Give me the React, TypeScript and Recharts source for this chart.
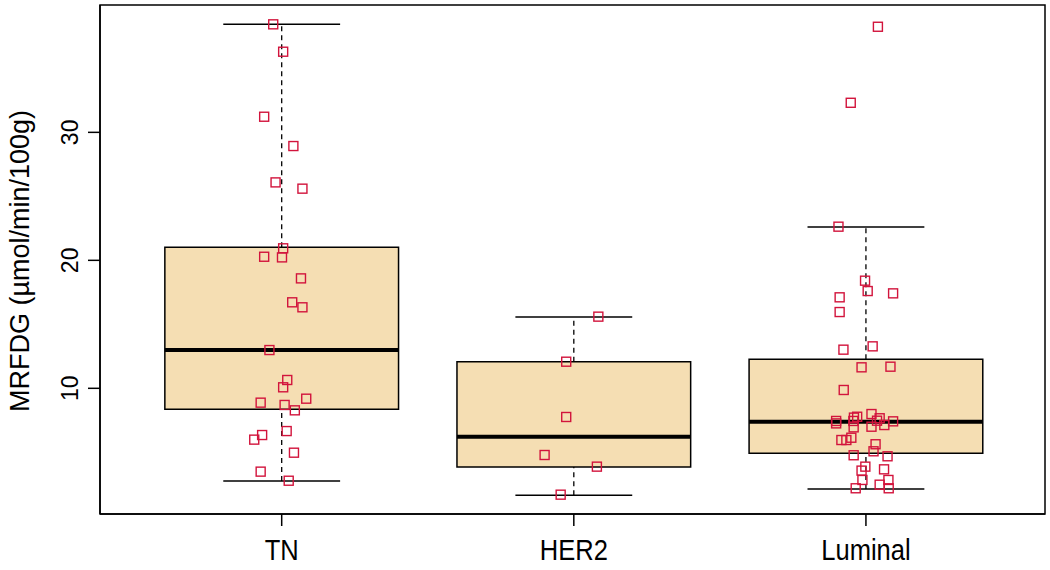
import React from 'react';
import {
  ComposedChart,
  XAxis,
  YAxis,
  Scatter,
  ReferenceArea,
  ReferenceLine,
} from 'recharts';

const groups = ['TN', 'HER2', 'Luminal'];
const yTicks = [10, 20, 30];
const xDomain = [0.378, 3.613];
const yDomain = [0.18, 39.95];

// box stats: lower whisker, Q1, median, Q3, upper whisker
const tnStats = [2.76, 8.36, 12.99, 21.02, 38.44];
const her2Stats = [1.64, 3.85, 6.22, 12.08, 15.57];
const luminalStats = [2.13, 4.92, 7.39, 12.27, 22.6];

// individual patients (values) and the horizontal jitter used in the plot
const tnValues = [
  38.44, 36.3, 31.22, 28.93, 26.09, 25.6, 20.94, 20.28, 20.23, 18.59, 16.72, 16.33, 12.99,
  10.65, 10.08, 9.19, 8.88, 8.7, 8.28, 6.66, 6.35, 5.99, 4.97, 3.49, 2.78,
];
const tnJitter = [
  -0.029, 0.005, -0.06, 0.04, -0.021, 0.071, 0.005, -0.06, 0.001, 0.066, 0.036, 0.071, -0.042,
  0.019, 0.005, 0.084, -0.072, 0.01, 0.045, 0.017, -0.067, -0.094, 0.042, -0.072, 0.024,
];
const her2Values = [15.6, 12.08, 7.76, 4.79, 3.88, 1.69];
const her2Jitter = [0.084, -0.026, -0.026, -0.1, 0.079, -0.045];
const luminalValues = [
  38.25, 32.31, 22.63, 18.41, 17.6, 17.42, 17.11, 15.96, 13.02, 13.28, 11.64, 11.69, 9.87,
  7.45, 7.26, 7.71, 7.78, 7.45, 7.99, 7.66, 7.47, 7.42, 7.13, 7.0, 6.95, 6.14, 5.96, 5.96,
  5.63, 5.08, 4.77, 4.69, 3.88, 3.57, 3.67, 2.84, 2.84, 2.47, 2.19, 2.19,
];
const luminalJitter = [
  0.041, -0.052, -0.094, -0.003, 0.006, 0.093, -0.09, -0.09, -0.077, 0.023, -0.015, 0.084, -0.076,
  -0.102, -0.102, -0.041, -0.03, -0.043, 0.019, 0.047, 0.038, 0.093, 0.063, 0.019, -0.042, -0.05,
  -0.067, -0.084, 0.033, 0.026, -0.042, 0.074, -0.002, -0.015, 0.062, -0.012, 0.077, 0.047,
  -0.035, 0.078,
];

const allStats = [tnStats, her2Stats, luminalStats];
const allValues = [tnValues, her2Values, luminalValues];
const allJitter = [tnJitter, her2Jitter, luminalJitter];

const points = allValues.flatMap((vals, g) =>
  vals.map((v, i) => ({ x: g + 1 + allJitter[g][i], y: v }))
);

const FONT = '"Liberation Sans", Arial, sans-serif';
const PT_COLOR = '#d2143c';
const BOX_FILL = '#f5deb3';

const SquareDot = (props: any) => {
  const { cx, cy } = props;
  if (cx == null || cy == null) return null;
  return (
    <rect x={cx - 4.5} y={cy - 4.5} width={9} height={9} fill="none" stroke={PT_COLOR} strokeWidth={1.4} />
  );
};

const XTick = (props: any) => {
  const { x, y, payload } = props;
  const by = y + 32;
  return (
    <text
      x={0}
      y={0}
      transform={`translate(${x}, ${by}) scale(0.88, 1)`}
      textAnchor="middle"
      fontSize={29}
      fontFamily={FONT}
      fill="#000"
    >
      {groups[payload.value - 1]}
    </text>
  );
};

const YTick = (props: any) => {
  const { x, y, payload } = props;
  const bx = x - 8;
  return (
    <text
      x={bx}
      y={y}
      transform={`rotate(-90, ${bx}, ${y})`}
      textAnchor="middle"
      fontSize={23}
      fontFamily={FONT}
      fill="#000"
    >
      {payload.value}
    </text>
  );
};

const App: React.FC = () => {
  return (
    <div style={{ width: 1050, height: 570 }}>
      <style>{'body{margin:0}'}</style>
      <ComposedChart width={1050} height={570} margin={{ top: 5, right: 5, bottom: 0, left: 0 }}>
        <XAxis
          type="number"
          dataKey="x"
          domain={xDomain}
          ticks={[1, 2, 3]}
          allowDataOverflow
          height={56}
          tickSize={12}
          stroke="#000"
          strokeWidth={1.5}
          tick={<XTick />}
        />
        <YAxis
          type="number"
          dataKey="y"
          domain={yDomain}
          ticks={yTicks}
          allowDataOverflow
          width={100}
          tickSize={12}
          stroke="#000"
          strokeWidth={1.5}
          tick={<YTick />}
          label={{
            content: () => (
              <text
                x={29}
                y={261}
                transform="rotate(-90, 29, 261)"
                textAnchor="middle"
                fontSize={27}
                fontFamily={FONT}
                fill="#000"
              >
                MRFDG (µmol/min/100g)
              </text>
            ),
          }}
        />

        {/* plot frame */}
        <ReferenceArea
          x1={xDomain[0]}
          x2={xDomain[1]}
          y1={yDomain[0]}
          y2={yDomain[1]}
          fill="none"
          stroke="#000"
          strokeWidth={1.5}
        />

        {allStats.map((s, g) => (
          <ReferenceArea
            key={`box-${g}`}
            x1={g + 1 - 0.4}
            x2={g + 1 + 0.4}
            y1={s[1]}
            y2={s[3]}
            fill={BOX_FILL}
            fillOpacity={1}
            stroke="#000"
            strokeWidth={1.5}
          />
        ))}
        {allStats.map((s, g) => (
          <ReferenceLine
            key={`wl-${g}`}
            segment={[{ x: g + 1, y: s[0] }, { x: g + 1, y: s[1] }]}
            stroke="#000"
            strokeWidth={1.3}
            strokeDasharray="5 4"
          />
        ))}
        {allStats.map((s, g) => (
          <ReferenceLine
            key={`wu-${g}`}
            segment={[{ x: g + 1, y: s[3] }, { x: g + 1, y: s[4] }]}
            stroke="#000"
            strokeWidth={1.3}
            strokeDasharray="5 4"
          />
        ))}
        {allStats.map((s, g) => (
          <ReferenceLine
            key={`sl-${g}`}
            segment={[{ x: g + 1 - 0.2, y: s[0] }, { x: g + 1 + 0.2, y: s[0] }]}
            stroke="#000"
            strokeWidth={1.5}
          />
        ))}
        {allStats.map((s, g) => (
          <ReferenceLine
            key={`su-${g}`}
            segment={[{ x: g + 1 - 0.2, y: s[4] }, { x: g + 1 + 0.2, y: s[4] }]}
            stroke="#000"
            strokeWidth={1.5}
          />
        ))}
        {allStats.map((s, g) => (
          <ReferenceLine
            key={`med-${g}`}
            segment={[{ x: g + 1 - 0.4, y: s[2] }, { x: g + 1 + 0.4, y: s[2] }]}
            stroke="#000"
            strokeWidth={4}
          />
        ))}

        <Scatter data={points} shape={<SquareDot />} isAnimationActive={false} />
      </ComposedChart>
    </div>
  );
};

export default App;
